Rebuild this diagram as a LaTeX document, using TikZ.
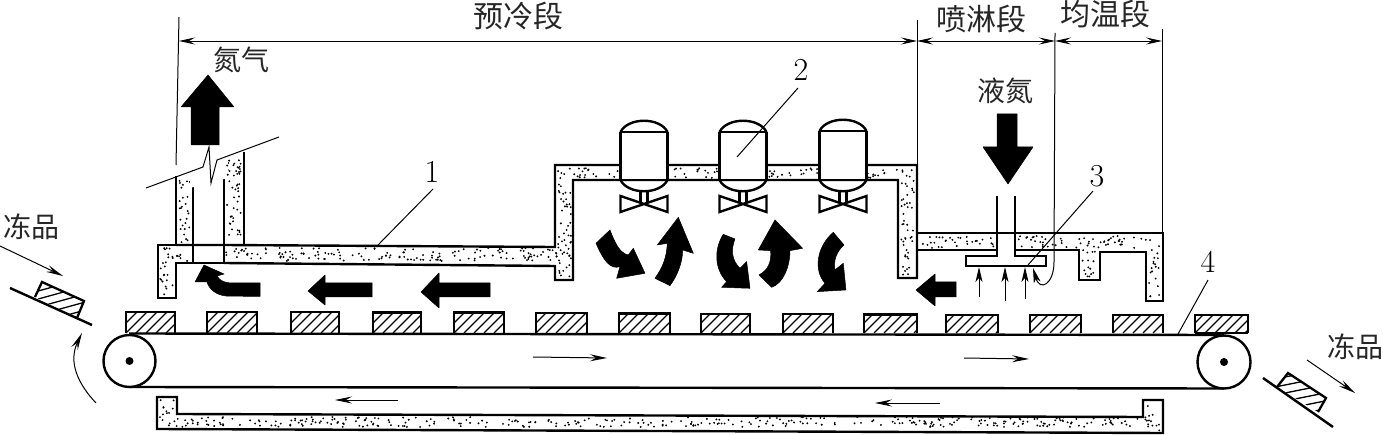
\documentclass[tikz,border=0pt]{standalone}
\usepackage{fontspec}
\usetikzlibrary{arrows.meta,calc}
\newfontfamily\cjk{Noto Sans CJK SC}
\tikzset{
  wall/.style={line width=2.4pt,line join=miter},
  thin line/.style={line width=1pt},
  dim/.style={line width=0.9pt,{Stealth[length=16pt,width=7pt,inset=6pt]}-{Stealth[length=16pt,width=7pt,inset=6pt]}},
  flow/.style={line width=1pt,-{Stealth[length=17pt,width=7pt,inset=6pt]}},
  small flow/.style={line width=1pt,-{Stealth[length=15pt,width=7pt,inset=4pt]}},
  blk/.style={fill=black,draw=black,line width=0.5pt,line join=round},
  cn/.style={font=\cjk\fontsize{28}{30}\selectfont,inner sep=0pt,text=black!85},
  cnl/.style={font=\cjk\fontsize{30}{32}\selectfont,inner sep=0pt,text=black!85},
  num/.style={font=\fontsize{32}{34}\selectfont,inner sep=0pt},
  hatch/.style={line width=1.3pt},
  prod/.style={line width=2.3pt}
}
% random stipple in a rectangle
\newcommand{\stip}[4]{%
  \pgfmathtruncatemacro\nd{abs((#3-#1)*(#4-#2))*0.035}%
  \foreach \i in {1,...,\nd}{%
    \pgfmathsetmacro\rx{#1+rnd*(#3-#1)}%
    \pgfmathsetmacro\ry{#2+rnd*(#4-#2)}%
    \fill (\rx,\ry) circle (1.05pt);}%
}
% hatched product on the belt
\newcommand{\prodbox}[3]{%
  \begin{scope}
    \clip (#1,#3) rectangle (#2,333);
    \foreach \s in {-20,-10,...,60}{%
      \draw[hatch] ($(#1,333)+(\s,0)$) -- ($(#1,333)+(\s,0)+(22,-22)$);}
  \end{scope}
  \draw[prod] (#1,333) -- (#1,#3) -- (#2,#3) -- (#2,333);
}
% tank and valve
\newcommand{\tank}[2]{%
  \fill[white] (#1-23.5,#2+132) -- (#1-23.5,#2+180) -- (#1+23.5,#2+180) -- (#1+23.5,#2+132) -- cycle;
  \draw[wall] (#1-23.5,#2+132) -- (#1-23.5,#2+180);
  \draw[wall] (#1+23.5,#2+132) -- (#1+23.5,#2+180);
  \draw[wall] (#1-23.5,#2+132) -- (#1+23.5,#2+132);
  \draw[wall] (#1-23.5,180) -- (#1+23.5,180);
  \draw[wall] (#1-23.5,#2+132) .. controls (#1-16,#2+117) and (#1+16,#2+117) .. (#1+23.5,#2+132);
  \draw[wall] (#1-23.5,180) .. controls (#1-16,195) and (#1+16,195) .. (#1+23.5,180);
  \draw[wall] (#1-3.5,191) -- (#1-3.5,203) (#1+3.5,191) -- (#1+3.5,203);
  \draw[wall] (#1-23.5,196) -- (#1+23.5,212) -- (#1+23.5,196) -- (#1-23.5,212) -- cycle;
}
\begin{document}
\begin{tikzpicture}[x=1pt,y=-1pt]
\useasboundingbox (0,0) rectangle (1383,435);
\pgfmathsetseed{4242}

% ---- stipple of the insulation
\stip{160}{248}{174}{296}
\stip{176}{248}{191}{261}
\stip{226}{248}{553}{261}
\stip{179}{178}{191}{243}
\stip{227}{158}{241}{243}
\stip{553}{250}{571}{264}
\stip{558}{168}{571}{278}
\stip{571}{168}{620}{178}
\stip{668}{168}{719}{178}
\stip{767}{168}{819}{178}
\stip{867}{168}{914}{178}
\stip{901}{180}{914}{276}
\stip{920}{236}{995}{248}
\stip{1017}{236}{1160}{248}
\stip{1082}{250}{1098}{278}
\stip{1149}{250}{1160}{299}
\stip{160}{400}{175}{427}
\stip{175}{417}{1145}{427}
\stip{1145}{403}{1160}{431}

% ---- housing, preliminary cooling part
\draw[wall] (176,245) -- (158,245) -- (158,298) -- (176,298) -- (176,263) -- (193,263);
\draw[wall] (224,263) -- (555,266) -- (555,280) -- (573,280) -- (573,180) -- (898,180) -- (898,278) -- (917,278) -- (917,233);
\draw[wall] (176,245) -- (193,245) -- (224,245) -- (553,247) -- (555,247) -- (555,165) -- (917,165) -- (917,233);
\draw[wall] (193,263) -- (224,263);
% chimney
\draw[wall] (176,176) -- (176,245);
\draw[wall] (193,170) -- (193,263);
\draw[wall] (224,160) -- (224,263);
\draw[wall] (244,152) -- (244,245);
% chimney break line
\fill[white] (190,172) -- (228,158) -- (228,178) -- (190,188) -- cycle;
\stip{227}{160}{241}{175}
\draw[thin line] (146,188) -- (203,167) -- (209,147) -- (211,183) -- (217,160) -- (279,137);

% ---- housing, spray and equalising part
\draw[wall] (917,233) -- (1163,233) -- (1163,301) -- (1146,301) -- (1146,252) -- (1100,252) -- (1100,280) -- (1079,280) -- (1079,250) -- (1015,250);
\draw[wall] (917,250) -- (997,250);
\draw[wall] (997,196) -- (997,256) -- (966,256) -- (966,266) -- (1046,266) -- (1046,256) -- (1015,256) -- (1015,196);
\fill[white] (999,234) rectangle (1013,249);

% ---- tanks
\tank{644}{0}
\tank{743}{0}
\tank{843}{-1}

% ---- lower housing
\draw[wall] (157,397) -- (177,397) -- (177,414) -- (1143,417) -- (1143,400) -- (1163,400) -- (1163,433) -- (157,429) -- cycle;

% ---- belt and rollers
\draw[wall] (129,333.5) -- (1224,335);
\draw[wall] (129,387) -- (1224,388.5);
\node[circle,draw,fill=white,line width=2.4pt,minimum size=52pt,inner sep=0pt] (rollerL) at (129.5,361) {};
\node[circle,draw,fill=white,line width=2.4pt,minimum size=53pt,inner sep=0pt] (rollerR) at (1224,362) {};
\fill (rollerL) circle (4pt);
\fill (rollerR) circle (4pt);

% ---- products on the belt
\prodbox{126}{175}{312}
\prodbox{207}{257}{312}
\prodbox{291}{339}{312}
\prodbox{373}{421}{312.5}
\prodbox{454}{504}{312.5}
\prodbox{536}{587}{313}
\prodbox{619}{670}{313.5}
\prodbox{701}{750}{314}
\prodbox{783}{833}{314}
\prodbox{864}{917}{314.5}
\prodbox{946}{998}{315}
\prodbox{1030}{1081}{315}
\prodbox{1113}{1163}{315}
\prodbox{1195}{1248}{315}
\draw[prod] (1195,333) -- (1248,333);

% ---- tilted products and ramps
\begin{scope}
  \clip (35,297) -- (42,282) -- (84,301) -- (77,318) -- cycle;
  \foreach \d in {280,288,...,344}{\draw[hatch] (20,\d) -- (100,\d-22);}
\end{scope}
\draw[prod] (35,297) -- (42,282) -- (84,301) -- (77,318);
\draw[wall] (10,288) -- (92,325);
\begin{scope}
  \clip (1277,387) -- (1288,373) -- (1326,398) -- (1318,412) -- cycle;
  \foreach \d in {365,373,...,425}{\draw[hatch] (1265,\d) -- (1335,\d-14);}
\end{scope}
\draw[prod] (1277,387) -- (1288,373) -- (1326,398) -- (1318,412);
\draw[wall] (1263,378) -- (1333,427);

% ---- thin arrows
\coordinate (inA) at (0,246); \coordinate (inB) at (63,276);
\draw[flow] (inA) -- (inB);
\coordinate (outA) at (1307,360); \coordinate (outB) at (1355,393);
\draw[flow] (outA) -- (outB);
\coordinate (rotA) at (96,403); \coordinate (rotB) at (82,333);
\draw[flow] (rotA) .. controls (78,384) and (68,362) .. (rotB);
\coordinate (b1) at (533,357); \coordinate (b2) at (607,358);
\draw[flow] (b1) -- (b2);
\coordinate (b3) at (964,358); \coordinate (b4) at (1029,359);
\draw[flow] (b3) -- (b4);
\coordinate (b5) at (398,400); \coordinate (b6) at (335,400);
\draw[flow] (b5) -- (b6);
\coordinate (b7) at (940,403); \coordinate (b8) at (875,403);
\draw[flow] (b7) -- (b8);

% ---- spray arrows
\foreach \x/\e in {979/297,1005/301,1025/299}{\draw[small flow] (\x,\e) -- (\x,267);}

% ---- dimension lines
\coordinate (e1t) at (179,17); \coordinate (e1b) at (176,165);
\coordinate (e2t) at (917,20); \coordinate (e2b) at (917,165);
\coordinate (e3t) at (1055,33); \coordinate (e3b) at (1054,262);
\coordinate (e4t) at (1162,29); \coordinate (e4b) at (1162,233);
\coordinate (spr) at (1033,268);
\draw[thin line] (e1t) -- (e1b);
\draw[thin line] (e2t) -- (e2b);
\draw[thin line] (e4t) -- (e4b);
\draw[small flow] (e3t) -- (e3b) .. controls (1054,284) and (1040,292) .. (spr);
\coordinate (d1) at (179,41); \coordinate (d2) at (917,41);
\coordinate (d3) at (1055,41); \coordinate (d4) at (1162,41);
\draw[dim] (d1) -- (d2);
\draw[dim] (d2) -- (d3);
\draw[dim] (d3) -- (d4);

% ---- big black arrows
\fill[blk] (208,75) -- (234,107) -- (219,107) -- (219,145) -- (191,145) -- (191,107) -- (181,107) -- cycle;
\fill[blk] (997,114) -- (1017,114) -- (1017,147) -- (1033,147) -- (1008,184) -- (983,147) -- (997,147) -- cycle;
\fill[blk] (308,291) -- (325,275) -- (325,283) -- (372,283) -- (372,297) -- (325,297) -- (325,305) -- cycle;
\fill[blk] (421,292) -- (439,273) -- (439,283) -- (490,283) -- (490,297) -- (439,297) -- (439,308) -- cycle;
\fill[blk] (916,290) -- (935,274) -- (935,282) -- (956,282) -- (956,297) -- (935,297) -- (935,306) -- cycle;
\fill[blk] (260,283) -- (260,296.5) -- (226,296) .. controls (216,295) and (209,289) .. (207,282) -- (195,282) -- (204,265) -- (224,274) -- (217,276) .. controls (220,281) and (225,283) .. (232,283) -- cycle;
\begin{scope}[shift={(460,0)},x=0.3333pt,y=-0.3333pt]
  \fill[blk] (408,730) .. controls (430,780) and (450,810) .. (480,800) -- (470,835) -- (555,820) -- (520,745) -- (505,765) .. controls (480,760) and (465,730) .. (450,690) -- cycle;
  \fill[blk] (585,835) .. controls (610,800) and (620,770) .. (622,730) -- (592,735) -- (655,652) -- (700,760) -- (668,750) .. controls (668,790) and (650,830) .. (630,857) -- cycle;
  \fill[blk] (790,703) .. controls (760,750) and (765,810) .. (800,845) -- (785,862) -- (870,865) -- (860,785) -- (840,805) .. controls (815,780) and (812,750) .. (825,717) -- cycle;
  \fill[blk] (897,825) .. controls (925,810) and (935,785) .. (932,752) -- (895,750) -- (945,660) -- (1028,745) -- (990,752) .. controls (990,800) and (970,850) .. (935,862) -- cycle;
  \fill[blk] (1120,697) .. controls (1070,740) and (1060,810) .. (1095,850) -- (1072,875) -- (1158,870) -- (1150,790) -- (1125,810) .. controls (1120,780) and (1130,755) .. (1152,735) -- cycle;
\end{scope}

% ---- labels
\node[cnl] (tA) at (518,16) {预冷段};
\node[cnl] (tB) at (981,19) {喷淋段};
\node[cnl] (tC) at (1105,14) {均温段};
\node[cn] (tD) at (241,60) {氮气};
\node[cn] (tE) at (1005,91) {液氮};
\node[cn] (tF) at (31,227) {冻品};
\node[cn] (tG) at (1355,347) {冻品};
\node[num] (n1) at (432,172) {1};
\node[num] (n2) at (801,70) {2};
\node[num] (n3) at (1097,176) {3};
\node[num] (n4) at (1208,262) {4};
\coordinate (l1a) at (433,189); \coordinate (l1b) at (378,245);
\coordinate (l2a) at (798,88); \coordinate (l2b) at (737,157);
\coordinate (l3a) at (1093,191); \coordinate (l3b) at (1028,265);
\coordinate (l4a) at (1208,280); \coordinate (l4b) at (1178,334);
\draw[thin line] (l1a) -- (l1b);
\draw[thin line] (l2a) -- (l2b);
\draw[thin line] (l3a) -- (l3b);
\draw[thin line] (l4a) -- (l4b);
\end{tikzpicture}
\end{document}
